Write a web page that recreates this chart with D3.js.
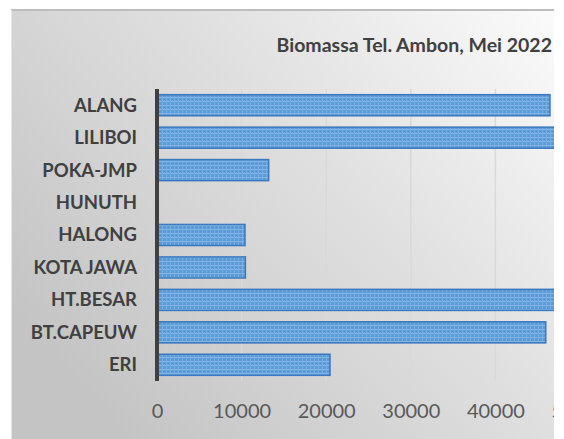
<!DOCTYPE html>
<html><head><meta charset="utf-8">
<script src="https://cdn.jsdelivr.net/npm/d3@7"></script>
<style>html,body{margin:0;padding:0;background:#fff;}svg{display:block;}</style>
</head><body>
<script>
const categories = ["ALANG","LILIBOI","POKA-JMP","HUNUTH","HALONG","KOTA JAWA","HT.BESAR","BT.CAPEUW","ERI"];
const values = [46450, 48500, 13200, 0, 10400, 10450, 49000, 45950, 20450];
const tickValues = [0,10000,20000,30000,40000,50000];
const title = "Biomassa Tel. Ambon, Mei 2022";

const W = 564, H = 439;
const svg = d3.select("body").append("svg").attr("width",W).attr("height",H);
const defs = svg.append("defs");
const grad = defs.append("linearGradient").attr("id","bg").attr("x1","0").attr("y1","0.7").attr("x2","1").attr("y2","0");
grad.append("stop").attr("offset","0").attr("stop-color","#c4c4c4");
grad.append("stop").attr("offset","0.55").attr("stop-color","#e0e0e0");
grad.append("stop").attr("offset","1").attr("stop-color","#fbfbfb");
const pat = defs.append("pattern").attr("id","dots").attr("patternUnits","userSpaceOnUse").attr("width",4).attr("height",4);
pat.append("rect").attr("width",4).attr("height",4).attr("fill","#5b9bd5");
pat.append("rect").attr("x",0).attr("y",1).attr("width",4).attr("height",1).attr("fill","#86b6e6");
pat.append("rect").attr("x",2).attr("y",0).attr("width",1).attr("height",4).attr("fill","#7aaee2");
defs.append("clipPath").attr("id","clip").append("rect").attr("x",11).attr("y",9).attr("width",543).attr("height",H-9);

const g = svg.append("g").attr("clip-path","url(#clip)");
g.append("rect").attr("x",11).attr("y",9).attr("width",543).attr("height",H-9).attr("fill","url(#bg)");
g.append("line").attr("x1",11).attr("x2",554).attr("y1",10).attr("y2",10).attr("stroke","#bdbdbd").attr("stroke-width",2);
g.append("line").attr("x1",11.5).attr("x2",11.5).attr("y1",10).attr("y2",H).attr("stroke","#e6e6e6").attr("stroke-width",1);

const x = d3.scaleLinear().domain([0,50000]).range([157,580]);
const y = d3.scaleBand().domain(categories).range([89,381]).paddingInner(0.35).paddingOuter(0.175);

// gridlines
g.append("g").selectAll("line").data(tickValues.slice(1)).join("line")
  .attr("x1",d=>x(d)).attr("x2",d=>x(d)).attr("y1",89).attr("y2",381)
  .attr("stroke","#d9d9d9").attr("stroke-width",1.5);

// bars
g.append("g").selectAll("rect").data(categories).join("rect")
  .attr("x",x(0)+1).attr("y",(d)=>y(d))
  .attr("width",(d,i)=>Math.max(0,x(values[i])-x(0)-1))
  .attr("height",y.bandwidth())
  .attr("fill","url(#dots)").attr("stroke","#3a78c0").attr("stroke-width",1.5)
  .attr("display",(d,i)=>values[i]>0?null:"none");

// zero axis line
g.append("line").attr("x1",x(0)).attr("x2",x(0)).attr("y1",89).attr("y2",381).attr("stroke","#404040").attr("stroke-width",4);

// category labels
const yAxis = d3.axisLeft(y).tickSize(0).tickPadding(0);
const ya = g.append("g").attr("transform","translate(137,0)").call(yAxis);
ya.select(".domain").remove();
ya.selectAll("text").attr("font-family","Lato, sans-serif").attr("font-weight","bold").attr("font-size","18.5px").attr("fill","#404040").attr("dy","0.35em");

// x tick labels
const xAxis = d3.axisBottom(x).tickValues(tickValues).tickSize(0).tickPadding(0).tickFormat(d3.format("d"));
const xa = g.append("g").attr("transform","translate(0,411)").call(xAxis);
xa.select(".domain").remove();
xa.selectAll("text").attr("font-family","Lato, sans-serif").attr("font-size","20px").attr("fill","#595959").attr("dy","0.35em");

// title
g.append("text").attr("x",552).attr("y",52).attr("text-anchor","end")
  .attr("font-family","Lato, sans-serif").attr("font-weight","bold").attr("font-size","19.5px").attr("fill","#404040").text(title);
</script>
</body></html>
